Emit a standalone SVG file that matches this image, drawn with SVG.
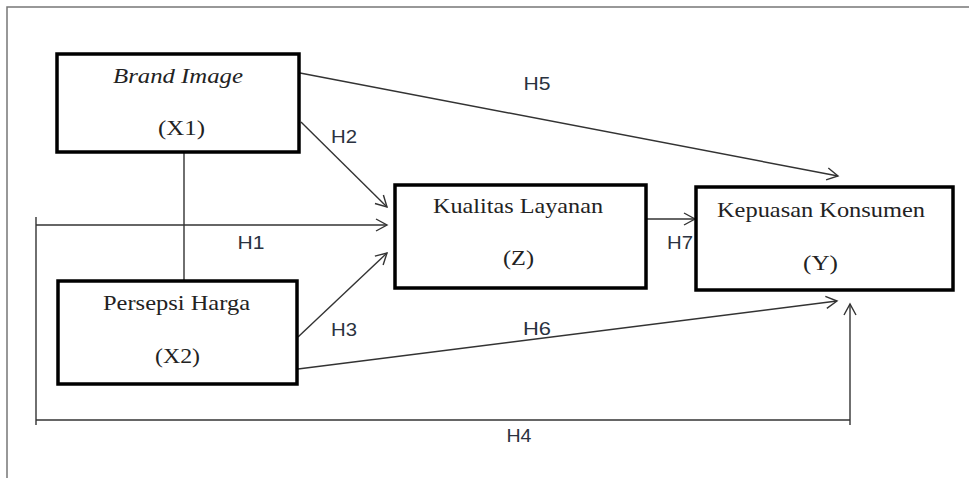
<svg xmlns="http://www.w3.org/2000/svg" width="969" height="478" viewBox="0 0 969 478">
<style>
.box{fill:#fff;stroke:#000;stroke-width:3.5}
.t{font-family:"Liberation Serif","Times New Roman",serif;font-size:21px;fill:#222;text-anchor:middle}
.lbl{font-family:"Liberation Sans",Arial,sans-serif;font-size:18px;fill:#2a3240;text-anchor:middle}
.ln{fill:none;stroke:#333;stroke-width:1.4}
.frame{fill:none;stroke:#777;stroke-width:1.5}
</style>
<defs>
<marker id="arr" markerUnits="userSpaceOnUse" markerWidth="14" markerHeight="14" refX="11" refY="6" orient="auto" overflow="visible">
<path d="M0,0 L11,6 L0,12" fill="none" stroke="#333" stroke-width="1.4"/>
</marker>
</defs>
<rect width="969" height="478" fill="#fff"/>
<path class="frame" d="M7,478 L7,7 L969,7"/>
<g id="connectors">
<line class="ln" x1="184" y1="152" x2="184" y2="281"/>
<line class="ln" x1="36" y1="225" x2="387" y2="225" marker-end="url(#arr)"/>
<line class="ln" x1="36" y1="217" x2="36" y2="425"/>
<line class="ln" x1="36" y1="420" x2="850" y2="420"/>
<line class="ln" x1="850" y1="425" x2="850" y2="304" marker-end="url(#arr)"/>
<line class="ln" x1="301" y1="122" x2="387" y2="207" marker-end="url(#arr)"/>
<line class="ln" x1="298" y1="337" x2="387" y2="253" marker-end="url(#arr)"/>
<line class="ln" x1="300" y1="73" x2="838" y2="176" marker-end="url(#arr)"/>
<line class="ln" x1="298" y1="369" x2="837" y2="301" marker-end="url(#arr)"/>
<line class="ln" x1="646" y1="219" x2="695" y2="219" marker-end="url(#arr)"/>
<text class="lbl" x="251" y="249" textLength="27" lengthAdjust="spacingAndGlyphs">H1</text>
<text class="lbl" x="344" y="143" textLength="26" lengthAdjust="spacingAndGlyphs">H2</text>
<text class="lbl" x="344" y="336" textLength="26" lengthAdjust="spacingAndGlyphs">H3</text>
<text class="lbl" x="519" y="442" textLength="25" lengthAdjust="spacingAndGlyphs">H4</text>
<text class="lbl" x="537" y="90" textLength="27" lengthAdjust="spacingAndGlyphs">H5</text>
<text class="lbl" x="537" y="335" textLength="28" lengthAdjust="spacingAndGlyphs">H6</text>
<text class="lbl" x="680" y="249" textLength="26" lengthAdjust="spacingAndGlyphs">H7</text>
</g>
<g id="x1">
<rect class="box" x="57" y="54" width="242" height="98"/>
<text class="t" x="178" y="83" font-style="italic" textLength="130" lengthAdjust="spacingAndGlyphs">Brand Image</text>
<text class="t" x="181.5" y="135" textLength="47" lengthAdjust="spacingAndGlyphs">(X1)</text>
</g>
<g id="x2">
<rect class="box" x="58" y="281" width="239" height="103"/>
<text class="t" x="176.5" y="310" textLength="147" lengthAdjust="spacingAndGlyphs">Persepsi Harga</text>
<text class="t" x="177.5" y="363" textLength="45" lengthAdjust="spacingAndGlyphs">(X2)</text>
</g>
<g id="z">
<rect class="box" x="395" y="185" width="251" height="103"/>
<text class="t" x="518" y="213" textLength="170" lengthAdjust="spacingAndGlyphs">Kualitas Layanan</text>
<text class="t" x="518.5" y="265" textLength="31" lengthAdjust="spacingAndGlyphs">(Z)</text>
</g>
<g id="y">
<rect class="box" x="696" y="187" width="257" height="103"/>
<text class="t" x="821" y="217" textLength="208" lengthAdjust="spacingAndGlyphs">Kepuasan Konsumen</text>
<text class="t" x="820.5" y="270" textLength="35" lengthAdjust="spacingAndGlyphs">(Y)</text>
</g>
</svg>
